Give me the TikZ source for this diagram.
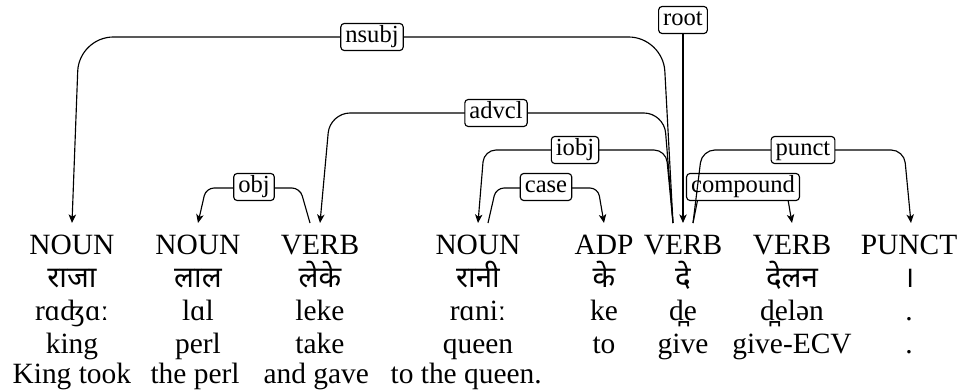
\documentclass[tikz,border=0pt]{standalone}
\usepackage{fontspec}
\setmainfont{Liberation Serif}
\newfontfamily\deva[Script=Devanagari]{Noto Sans}
\usetikzlibrary{arrows.meta,calc}
\begin{document}
\begin{tikzpicture}[x=0.35pt,y=-0.35pt,
  tag/.style={anchor=base, font=\fontsize{10.3}{12}\selectfont, inner xsep=0pt, inner ysep=3.85pt, text height=6.8pt, text depth=0pt},
  word/.style={anchor=base, font=\fontsize{10.3}{12}\selectfont, inner sep=0pt},
  dev/.style={anchor=base, font=\fontsize{10.3}{12}\selectfont\deva, inner sep=0pt},
  deplabel/.style={draw, fill=white, rounded corners=1.2pt, font=\fontsize{8.6}{10}\selectfont, inner xsep=1.6pt, inner ysep=0pt, text height=5.9pt, text depth=1.9pt, minimum height=9.45pt},
  dep/.style={draw, line width=0.4pt, -{Stealth[length=3pt,width=2.6pt,inset=0.8pt]}}
]
\useasboundingbox (0,0) rectangle (961,392);
% POS tags
\node[tag] (t1) at (72,254) {NOUN};
\node[tag] (t2) at (198,254) {NOUN};
\node[tag] (t3) at (320,254) {VERB};
\node[tag] (t4) at (478,254) {NOUN};
\node[tag] (t5) at (604,254) {ADP};
\node[tag] (t6) at (683,254) {VERB};
\node[tag] (t7) at (792,254) {VERB};
\node[tag] (t8) at (909,254) {PUNCT};
% Devanagari
\node[dev] (d1) at (72,287) {राजा};
\node[dev] (d2) at (198,287) {लाल};
\node[dev] (d3) at (320,287) {लेके};
\node[dev] (d4) at (478,287) {रानी};
\node[dev] (d5) at (604,287) {के};
\node[dev] (d6) at (683,287) {दे};
\node[dev] (d7) at (792,287) {देलन};
\node[dev] (d8) at (909,287) {।};
% transliteration
\node[word] (r1) at (72,320) {rɑʤɑː};
\node[word] (r2) at (198,320) {lɑl};
\node[word] (r3) at (320,320) {leke};
\node[word] (r4) at (478,320) {rɑniː};
\node[word] (r5) at (604,320) {ke};
\node[word] (r6) at (683,320) {d̪e};
\node[word] (r7) at (792,320) {d̪elən};
\node[word] (r8) at (909,320) {.};
% gloss
\node[word] (g1) at (72,353) {king};
\node[word] (g2) at (198,353) {perl};
\node[word] (g3) at (320,353) {take};
\node[word] (g4) at (478,353) {queen};
\node[word] (g5) at (604,353) {to};
\node[word] (g6) at (683,353) {give};
\node[word] (g7) at (792,353) {give-ECV};
\node[word] (g8) at (909,353) {.};
% free translation
\node[word, anchor=base west] (s) at (12,383) {\makebox[48.3pt][l]{King took}\makebox[39.55pt][l]{the perl}\makebox[44.45pt][l]{and gave}to the queen.};
% edges
\draw[dep, rounded corners=12pt] ($(t6.north)+(-10,0)$) -- (663,37) -- (79,37) -- (t1.north);
\draw[dep, rounded corners=7pt] ($(t6.north)+(-10,0)$) -- (664,113) -- (330,113) -- (t3.north);
\draw[dep, rounded corners=4.2pt] ($(t6.north)+(-10,0)$) -- (666,150) -- (484,150) -- (t4.north);
\draw[dep, rounded corners=2.8pt] ($(t3.north)+(-10,0)$) -- (300,188) -- (206,188) -- (t2.north);
\draw[dep, rounded corners=2.8pt] ($(t4.north)+(10,0)$) -- (496,188) -- (598,188) -- (t5.north);
\draw[dep, rounded corners=2.8pt] ($(t6.north)+(10,0)$) -- (700,188) -- (786,188) -- (t7.north);
% labels
\node[deplabel] (lnsubj) at (372,37) {nsubj};
\node[deplabel] (ladvcl) at (496,113) {advcl};
\node[deplabel] (liobj) at (575,150) {iobj};
\node[deplabel] (lobj) at (254,187) {obj};
\node[deplabel] (lcase) at (546,187) {case};
\node[deplabel] (lcompound) at (743,187) {compound};
\node[deplabel] (lroot) at (683,20) {root};
\draw[dep] (lroot) -- (t6);
% punct drawn over the compound label
\draw[dep, rounded corners=4.5pt] ($(t6.north)+(10,0)$) -- (702,150) -- (904,150) -- ($(t8.north)+(2,0)$);
\node[deplabel] (lpunct) at (803,150) {punct};
\end{tikzpicture}
\end{document}
